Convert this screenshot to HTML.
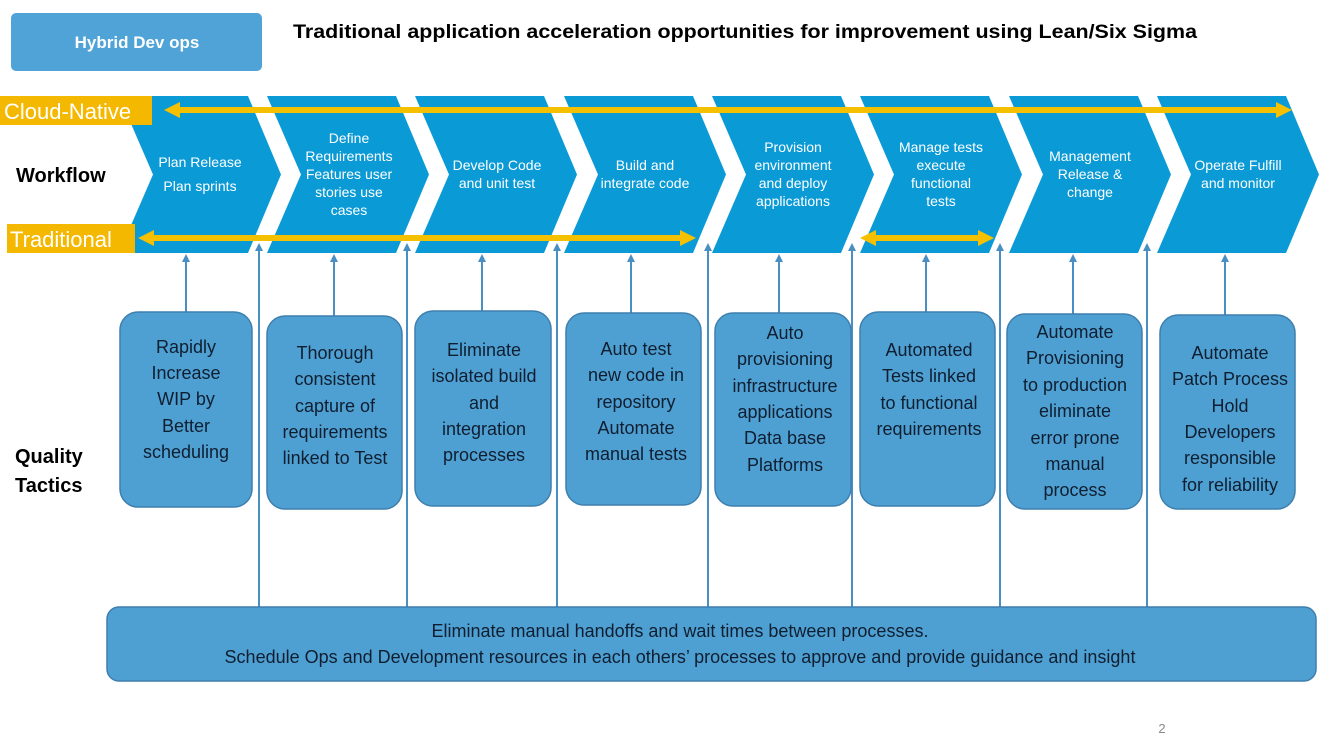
<!DOCTYPE html>
<html><head><meta charset="utf-8"><style>
html,body{margin:0;padding:0;background:#fff;}
svg{display:block;}
text{font-family:"Liberation Sans",sans-serif;}
</style></head><body>
<svg width="1319" height="742" viewBox="0 0 1319 742" xmlns="http://www.w3.org/2000/svg">
<defs>
<marker id="ba" markerWidth="8" markerHeight="8" refX="4" refY="4" orient="auto" markerUnits="userSpaceOnUse"><path d="M0,0 L8,4 L0,8 z" fill="#4a8fc4"/></marker>
</defs>
<rect x="11" y="13" width="251" height="58" rx="5" fill="#4fa3d6"/>
<text x="137" y="48" font-size="17" font-weight="bold" fill="#fff" text-anchor="middle">Hybrid Dev ops</text>
<text x="293" y="38" font-size="19" font-weight="bold" fill="#000" textLength="904" lengthAdjust="spacingAndGlyphs">Traditional application acceleration opportunities for improvement using Lean/Six Sigma</text>

<g fill="#0a9ad6">
<polygon points="119,96 248,96 281,174.5 248,253 119,253 153,174.5"/>
<polygon points="267,96 396,96 429,174.5 396,253 267,253 301,174.5"/>
<polygon points="415,96 544,96 577,174.5 544,253 415,253 449,174.5"/>
<polygon points="564,96 693,96 726,174.5 693,253 564,253 598,174.5"/>
<polygon points="712,96 841,96 874,174.5 841,253 712,253 746,174.5"/>
<polygon points="860,96 989,96 1022,174.5 989,253 860,253 894,174.5"/>
<polygon points="1009,96 1138,96 1171,174.5 1138,253 1009,253 1043,174.5"/>
<polygon points="1157,96 1286,96 1319,174.5 1286,253 1157,253 1191,174.5"/>
</g>
<g font-size="14" fill="#fff" text-anchor="middle">
<text x="200" y="167">Plan Release</text><text x="200" y="191">Plan sprints</text>
<text x="349" y="143">Define</text><text x="349" y="161">Requirements</text><text x="349" y="179">Features user</text><text x="349" y="197">stories use</text><text x="349" y="215">cases</text>
<text x="497" y="170">Develop Code</text><text x="497" y="188">and unit test</text>
<text x="645" y="170">Build and</text><text x="645" y="188">integrate code</text>
<text x="793" y="152">Provision</text><text x="793" y="170">environment</text><text x="793" y="188">and deploy</text><text x="793" y="206">applications</text>
<text x="941" y="152">Manage tests</text><text x="941" y="170">execute</text><text x="941" y="188">functional</text><text x="941" y="206">tests</text>
<text x="1090" y="161">Management</text><text x="1090" y="179">Release &amp;</text><text x="1090" y="197">change</text>
<text x="1238" y="170">Operate Fulfill</text><text x="1238" y="188">and monitor</text>
</g>
<text x="16" y="182" font-size="20" font-weight="bold" fill="#000">Workflow</text>
<text x="15" y="463" font-size="20" font-weight="bold" fill="#000">Quality</text>
<text x="15" y="492" font-size="20" font-weight="bold" fill="#000">Tactics</text>

<rect x="0" y="96" width="152" height="29" fill="#f5b800"/>
<text x="4" y="119" font-size="22" fill="#fff">Cloud-Native</text>
<rect x="7" y="224" width="128" height="29" fill="#f5b800"/>
<text x="10" y="247" font-size="22" fill="#fff">Traditional</text>
<g fill="#f5c000" stroke="none">
<rect x="178" y="107" width="1100" height="6"/>
<polygon points="164,110 180,102 180,118"/><polygon points="1292,110 1276,102 1276,118"/>
<rect x="152" y="235" width="530" height="6"/>
<polygon points="138,238 154,230 154,246"/><polygon points="696,238 680,230 680,246"/>
<rect x="874" y="235" width="106" height="6"/>
<polygon points="860,238 876,230 876,246"/><polygon points="994,238 978,230 978,246"/>
</g>

<g stroke="#4a8fc4" stroke-width="2">
<line x1="186" y1="312" x2="186" y2="258" marker-end="url(#ba)"/>
<line x1="334" y1="316" x2="334" y2="258" marker-end="url(#ba)"/>
<line x1="482" y1="311" x2="482" y2="258" marker-end="url(#ba)"/>
<line x1="631" y1="313" x2="631" y2="258" marker-end="url(#ba)"/>
<line x1="779" y1="313" x2="779" y2="258" marker-end="url(#ba)"/>
<line x1="926" y1="312" x2="926" y2="258" marker-end="url(#ba)"/>
<line x1="1073" y1="314" x2="1073" y2="258" marker-end="url(#ba)"/>
<line x1="1225" y1="315" x2="1225" y2="258" marker-end="url(#ba)"/>
<line x1="259" y1="607" x2="259" y2="247" marker-end="url(#ba)"/>
<line x1="407" y1="607" x2="407" y2="247" marker-end="url(#ba)"/>
<line x1="557" y1="607" x2="557" y2="247" marker-end="url(#ba)"/>
<line x1="708" y1="607" x2="708" y2="247" marker-end="url(#ba)"/>
<line x1="852" y1="607" x2="852" y2="247" marker-end="url(#ba)"/>
<line x1="1000" y1="607" x2="1000" y2="247" marker-end="url(#ba)"/>
<line x1="1147" y1="607" x2="1147" y2="247" marker-end="url(#ba)"/>
</g>

<g fill="#4fa0d2" stroke="#3d7fae" stroke-width="1.5">
<rect x="120" y="312" width="132" height="195" rx="18"/>
<rect x="267" y="316" width="135" height="193" rx="18"/>
<rect x="415" y="311" width="136" height="195" rx="18"/>
<rect x="566" y="313" width="135" height="192" rx="18"/>
<rect x="715" y="313" width="136" height="193" rx="18"/>
<rect x="860" y="312" width="135" height="194" rx="18"/>
<rect x="1007" y="314" width="135" height="195" rx="18"/>
<rect x="1160" y="315" width="135" height="194" rx="18"/>
<rect x="107" y="607" width="1209" height="74" rx="12"/>
</g>
<g font-size="18" fill="#0f1e30" text-anchor="middle">
<text x="186" y="353">Rapidly</text><text x="186" y="379">Increase</text><text x="186" y="405">WIP by</text><text x="186" y="432">Better</text><text x="186" y="458">scheduling</text>
<text x="335" y="359">Thorough</text><text x="335" y="385">consistent</text><text x="335" y="412">capture of</text><text x="335" y="438">requirements</text><text x="335" y="464">linked to Test</text>
<text x="484" y="356">Eliminate</text><text x="484" y="382">isolated build</text><text x="484" y="409">and</text><text x="484" y="435">integration</text><text x="484" y="461">processes</text>
<text x="636" y="355">Auto test</text><text x="636" y="381">new code in</text><text x="636" y="408">repository</text><text x="636" y="434">Automate</text><text x="636" y="460">manual tests</text>
<text x="785" y="339">Auto</text><text x="785" y="365">provisioning</text><text x="785" y="392">infrastructure</text><text x="785" y="418">applications</text><text x="785" y="444">Data base</text><text x="785" y="471">Platforms</text>
<text x="929" y="356">Automated</text><text x="929" y="382">Tests linked</text><text x="929" y="409">to functional</text><text x="929" y="435">requirements</text>
<text x="1075" y="338">Automate</text><text x="1075" y="364">Provisioning</text><text x="1075" y="391">to production</text><text x="1075" y="417">eliminate</text><text x="1075" y="444">error prone</text><text x="1075" y="470">manual</text><text x="1075" y="496">process</text>
<text x="1230" y="359">Automate</text><text x="1230" y="385">Patch Process</text><text x="1230" y="412">Hold</text><text x="1230" y="438">Developers</text><text x="1230" y="464">responsible</text><text x="1230" y="491">for reliability</text>
<text x="680" y="637">Eliminate manual handoffs  and wait times between processes.</text>
<text x="680" y="663">Schedule Ops and Development resources in each others’ processes to approve and provide guidance and insight</text>
</g>
<text x="1162" y="733" font-size="13" fill="#888" text-anchor="middle">2</text>
</svg>
</body></html>
